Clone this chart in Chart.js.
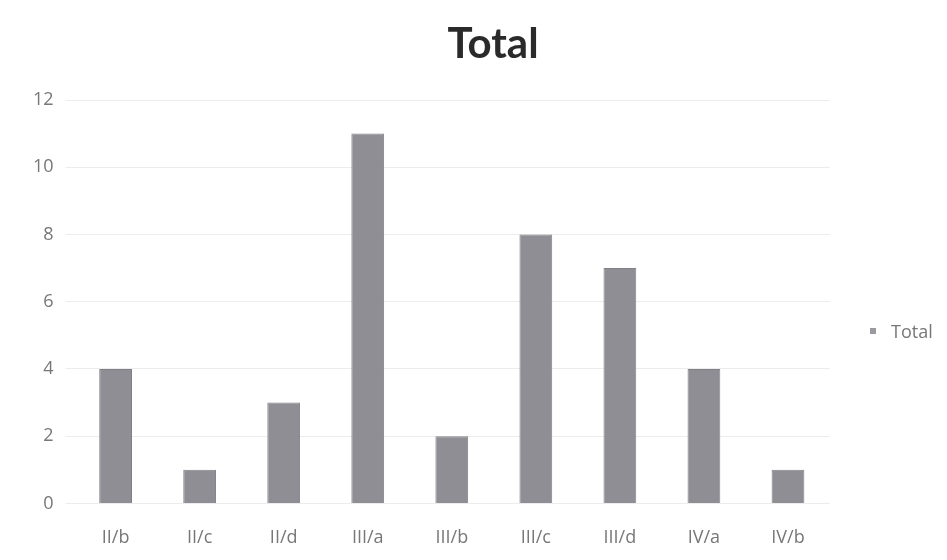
<!DOCTYPE html>
<html>
<head>
<meta charset="utf-8">
<script src="https://cdn.jsdelivr.net/npm/chart.js@4/dist/chart.umd.min.js"></script>
<style>
  html, body { margin: 0; padding: 0; background: #fff; }
  .chart-container { position: relative; width: 947px; height: 560px; }
  .chart-title {
    position: absolute; left: 393px; width: 200px; top: 16px;
    text-align: center; font-family: Lato, sans-serif; font-weight: bold;
    font-size: 42px; line-height: 52px; color: #2a2a2a;
  }
  .chart-legend {
    position: absolute; left: 870px; top: 320px;
    font-family: 'Open Sans', sans-serif; font-size: 18px; line-height: 22px; color: #777;
    white-space: nowrap;
  }
  .chart-legend i {
    display: inline-block; width: 6px; height: 6px; background: #9a9aa0;
    margin-right: 15px; vertical-align: middle; position: relative; top: -2px;
  }
</style>
</head>
<body>
<div class="chart-container">
  <canvas id="total-chart"></canvas>
  <div class="chart-title">Total</div>
  <div class="chart-legend" id="legend"></div>
</div>
<script>
const categories = ['II/b', 'II/c', 'II/d', 'III/a', 'III/b', 'III/c', 'III/d', 'IV/a', 'IV/b'];
const totals = [4, 1, 3, 11, 2, 8, 7, 4, 1];
const yTicks = [0, 2, 4, 6, 8, 10, 12];
const seriesName = 'Total';

document.getElementById('legend').innerHTML = `<i></i>${seriesName}`;

const ctx = document.getElementById('total-chart');
new Chart(ctx, {
  type: 'bar',
  data: {
    labels: categories,
    datasets: [{
      label: seriesName,
      data: totals,
      backgroundColor: '#8e8e94',
      borderColor: '#808086',
      borderWidth: 1,
      categoryPercentage: 1,
      barPercentage: 0.39
    }]
  },
  options: {
    responsive: true,
    maintainAspectRatio: false,
    animation: false,
    layout: { padding: { top: 100, left: 21, right: 117, bottom: -13 } },
    plugins: {
      legend: { display: false },
      title: { display: false },
      tooltip: { enabled: false }
    },
    scales: {
      x: {
        grid: { display: false, drawTicks: false },
        border: { display: false },
        ticks: { color: '#777', font: { family: 'Open Sans', size: 18 }, padding: 24 }
      },
      y: {
        min: 0,
        max: 12,
        afterBuildTicks: axis => { axis.ticks = yTicks.map(v => ({ value: v })); },
        grid: { color: '#ececec', tickLength: 8 },
        border: { display: false },
        ticks: { color: '#777', font: { family: 'Open Sans', size: 18 }, padding: 12 }
      }
    }
  }
});
</script>
</body>
</html>
